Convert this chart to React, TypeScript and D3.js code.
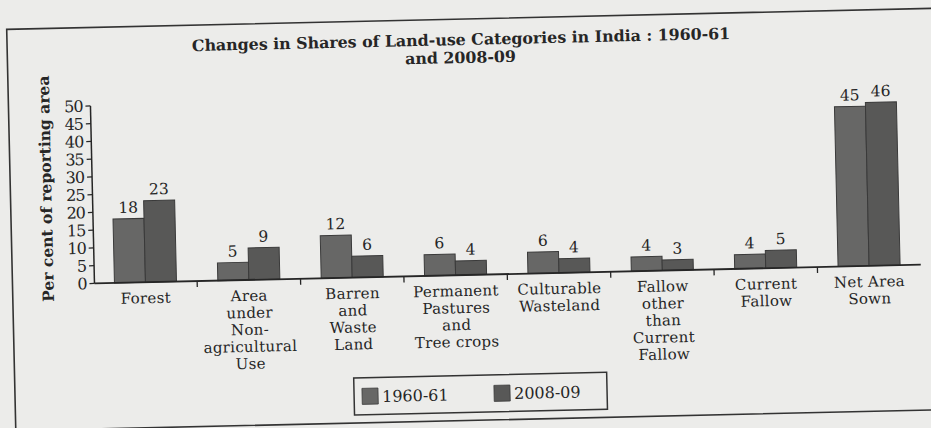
import * as d3 from 'd3'

const categories = [
  'Forest',
  'Area under Non-agricultural Use',
  'Barren and Waste Land',
  'Permanent Pastures and Tree crops',
  'Culturable Wasteland',
  'Fallow other than Current Fallow',
  'Current Fallow',
  'Net Area Sown',
]
// how each category label is broken into lines under the axis
const categoryLines = [
  ['Forest'],
  ['Area', 'under', 'Non-', 'agricultural', 'Use'],
  ['Barren', 'and', 'Waste', 'Land'],
  ['Permanent', 'Pastures', 'and', 'Tree crops'],
  ['Culturable', 'Wasteland'],
  ['Fallow', 'other', 'than', 'Current', 'Fallow'],
  ['Current', 'Fallow'],
  ['Net Area', 'Sown'],
]
const seriesNames = ['1960-61', '2008-09']
const values1960 = [18, 5, 12, 6, 6, 4, 4, 45]
const values2008 = [23, 9, 6, 4, 4, 3, 5, 46]

const W = 931
const H = 428
const serif = '"DejaVu Serif", "Liberation Serif", serif'
const ink = '#262626'
const colors = ['#676766', '#585857']

const App = () => {
  const x = d3.scaleBand<string>()
    .domain(categories)
    .range([92.3, 919.5])
    .paddingInner(0.4)
    .paddingOuter(0.2)
  const xs = d3.scaleBand<string>()
    .domain(seriesNames)
    .range([0, x.bandwidth()])
  const y = d3.scaleLinear().domain([0, 50]).range([275, 97.5])

  const rows = categories.map((c, i) => ({ c, vals: [values1960[i], values2008[i]] }))
  const boundaries = categories.slice(1).map(c => (x(c) ?? 0) - x.step() * x.paddingInner() / 2)

  return (
    <svg
      width={W}
      height={H}
      style={{ position: 'absolute', left: 0, top: 0, background: '#ececea' }}
    >
      <rect width={W} height={H} fill="#ececea" />
      <g transform={`rotate(-1.3, 465, 214)`}>
        {/* frame */}
        <path d={`M960,19 L11,19 L11,420.5 L960,420.5`} fill="none" stroke="#333" strokeWidth={1.6} />

        {/* title */}
        <text x={465} y={45} textAnchor="middle" fontFamily={serif} fontWeight="bold" fontSize={15.8} fill={ink}>
          Changes in Shares of Land-use Categories in India : 1960-61
        </text>
        <text x={464} y={63} textAnchor="middle" fontFamily={serif} fontWeight="bold" fontSize={15.8} fill={ink}>
          and 2008-09
        </text>

        {/* y axis */}
        <text
          transform={`translate(52,${(y(0) + y(50)) / 2 - 7}) rotate(-90)`}
          textAnchor="middle"
          fontFamily={serif}
          fontWeight="bold"
          fontSize={15.5}
          fill={ink}
        >
          Per cent of reporting area
        </text>
        <line x1={93} x2={93} y1={y(50)} y2={y(0)} stroke={ink} strokeWidth={1.5} />
        {y.ticks(10).map(t => (
          <g key={t} transform={`translate(93,${y(t)})`}>
            <line x1={-5} x2={0} stroke={ink} strokeWidth={1.3} />
            <text x={-8} dy="0.36em" textAnchor="end" fontFamily={serif} fontSize={16} letterSpacing={-1} fill={ink}>
              {t}
            </text>
          </g>
        ))}

        {/* bars */}
        {rows.map(r => (
          <g key={r.c} transform={`translate(${x(r.c)},0)`}>
            {r.vals.map((v, j) => (
              <g key={j}>
                <rect
                  x={xs(seriesNames[j])}
                  y={y(v)}
                  width={xs.bandwidth()}
                  height={y(0) - y(v)}
                  fill={colors[j]}
                  stroke="#3a3a3a"
                  strokeWidth={1}
                />
                <text
                  x={(xs(seriesNames[j]) ?? 0) + xs.bandwidth() / 2}
                  y={y(v) - 6}
                  textAnchor="middle"
                  fontFamily={serif}
                  fontSize={15.5}
                  fill={ink}
                >
                  {v}
                </text>
              </g>
            ))}
          </g>
        ))}

        {/* x axis */}
        <line x1={93} x2={919.5} y1={y(0)} y2={y(0)} stroke={ink} strokeWidth={1.8} />
        {boundaries.map((b, i) => (
          <line key={i} x1={b} x2={b} y1={y(0)} y2={y(0) + 6} stroke={ink} strokeWidth={1.3} />
        ))}
        {categories.map((c, i) => (
          <text
            key={c}
            x={(x(c) ?? 0) + x.bandwidth() / 2}
            y={y(0) + 21}
            textAnchor="middle"
            fontFamily={serif}
            fontSize={15}
            letterSpacing={0.3}
            fill={ink}
          >
            {categoryLines[i].map((ln, k) => (
              <tspan key={k} x={(x(c) ?? 0) + x.bandwidth() / 2} dy={k === 0 ? 0 : 17}>
                {ln}
              </tspan>
            ))}
          </text>
        ))}

        {/* legend */}
        <rect x={350} y={375.5} width={253} height={37} fill="none" stroke="#333" strokeWidth={1.5} />
        {seriesNames.map((s, i) => (
          <g key={s} transform={`translate(${358 + i * 132},386)`}>
            <rect width={16} height={16} fill={colors[i]} stroke="#3a3a3a" strokeWidth={0.8} />
            <text x={20} y={14} fontFamily={serif} fontSize={16} fill={ink}>
              {s}
            </text>
          </g>
        ))}
      </g>
    </svg>
  )
}

export default App
